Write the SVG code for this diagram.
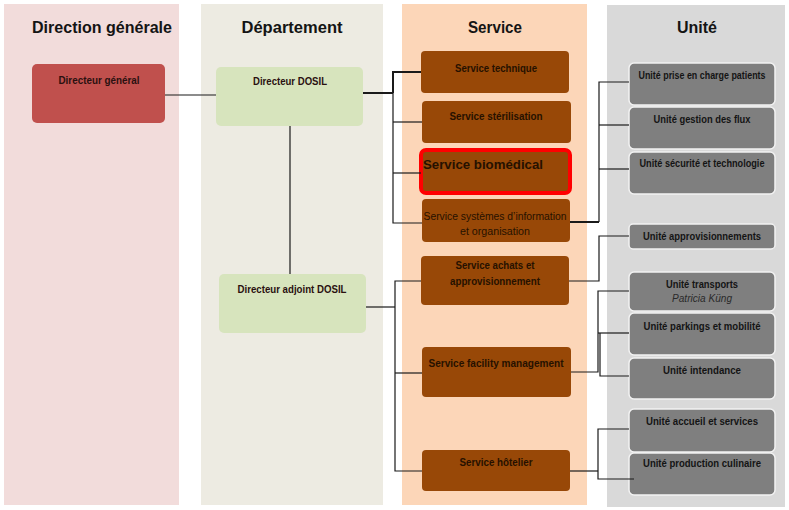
<svg xmlns="http://www.w3.org/2000/svg" width="789" height="510" viewBox="0 0 789 510">
<style>
.hdr{font-family:"Liberation Sans",Arial,sans-serif;font-weight:bold;font-size:17px;fill:#141414;text-anchor:middle}
.t{font-family:"Liberation Sans",Arial,sans-serif;font-weight:bold;font-size:10.5px;text-anchor:middle}
.dir{fill:#2a1010}
.svc{fill:#261100}
.unit{fill:#141414}
.srv{fill:#984807}
.u{fill:#7f7f7f;stroke:#f2f2f2;stroke-width:1.5}
.ln{fill:none;stroke:#1a1a1a;stroke-width:1.2}
.thick{stroke-width:2}
</style>
<rect x="0" y="0" width="789" height="510" fill="#ffffff"/>
<g id="columns">
<rect x="4" y="4" width="175" height="501" fill="#f2dcdb"/>
<rect x="201" y="4" width="182" height="501" fill="#edebe2"/>
<rect x="402" y="4" width="185" height="501" fill="#fcd6b8"/>
<rect x="607" y="5" width="178" height="502" fill="#d9d9d9"/>
<text class="hdr" x="102" y="33" textLength="140" lengthAdjust="spacingAndGlyphs">Direction générale</text>
<text class="hdr" x="292" y="33" textLength="101" lengthAdjust="spacingAndGlyphs">Département</text>
<text class="hdr" x="495" y="33" textLength="54" lengthAdjust="spacingAndGlyphs">Service</text>
<text class="hdr" x="697" y="33" textLength="40" lengthAdjust="spacingAndGlyphs">Unité</text>
</g>
<g id="directeur-general">
<rect x="32" y="64" width="133" height="59" rx="5" fill="#c0504d"/>
<text class="t dir" x="99" y="84" textLength="81" lengthAdjust="spacingAndGlyphs">Directeur général</text>
</g>
<g id="directeur-dosil">
<rect x="216" y="67" width="147" height="59" rx="5" fill="#d7e4bd"/>
<text class="t dir" x="290" y="85" textLength="74" lengthAdjust="spacingAndGlyphs">Directeur DOSIL</text>
</g>
<g id="directeur-adjoint-dosil">
<rect x="219" y="274" width="147" height="59" rx="5" fill="#d7e4bd"/>
<text class="t dir" x="292" y="293" textLength="109" lengthAdjust="spacingAndGlyphs">Directeur adjoint DOSIL</text>
</g>
<g id="service-technique">
<rect class="srv" x="421" y="51" width="148" height="42" rx="4"/>
<text class="t svc" x="496" y="72" textLength="82" lengthAdjust="spacingAndGlyphs">Service technique</text>
</g>
<g id="service-sterilisation">
<rect class="srv" x="422" y="101" width="149" height="42" rx="4"/>
<text class="t svc" x="496" y="120" textLength="93" lengthAdjust="spacingAndGlyphs">Service stérilisation</text>
</g>
<g id="service-biomedical">
<rect x="421" y="150" width="149" height="43" rx="5" fill="#984807" stroke="#ff0000" stroke-width="4"/>
<text class="t svc" x="423" y="169" style="font-size:13.5px;text-anchor:start" textLength="120" lengthAdjust="spacingAndGlyphs">Service biomédical</text>
</g>
<g id="service-si">
<rect class="srv" x="422" y="199" width="148" height="43" rx="4"/>
<text class="t svc" x="495" y="220" style="font-weight:normal" textLength="143" lengthAdjust="spacingAndGlyphs">Service systèmes d’information</text>
<text class="t svc" x="495" y="235" style="font-weight:normal" textLength="70" lengthAdjust="spacingAndGlyphs">et organisation</text>
</g>
<g id="service-achats">
<rect class="srv" x="421" y="256" width="148" height="49" rx="4"/>
<text class="t svc" x="495" y="269" textLength="79" lengthAdjust="spacingAndGlyphs">Service achats et</text>
<text class="t svc" x="495" y="285" textLength="90" lengthAdjust="spacingAndGlyphs">approvisionnement</text>
</g>
<g id="service-facility">
<rect class="srv" x="422" y="347" width="149" height="50" rx="4"/>
<text class="t svc" x="496" y="367" textLength="135" lengthAdjust="spacingAndGlyphs">Service facility management</text>
</g>
<g id="service-hotelier">
<rect class="srv" x="422" y="450" width="148" height="41" rx="4"/>
<text class="t svc" x="496" y="466" textLength="73" lengthAdjust="spacingAndGlyphs">Service hôtelier</text>
</g>
<g id="unite-prise-en-charge">
<rect class="u" x="629" y="63" width="146" height="42" rx="5"/>
<text class="t unit" x="702" y="79" textLength="127" lengthAdjust="spacingAndGlyphs">Unité prise en charge patients</text>
</g>
<g id="unite-gestion-flux">
<rect class="u" x="629" y="107" width="146" height="42" rx="5"/>
<text class="t unit" x="702" y="123" textLength="97" lengthAdjust="spacingAndGlyphs">Unité gestion des flux</text>
</g>
<g id="unite-securite">
<rect class="u" x="629" y="152" width="146" height="42" rx="5"/>
<text class="t unit" x="702" y="167" textLength="125" lengthAdjust="spacingAndGlyphs">Unité sécurité et technologie</text>
</g>
<g id="unite-approvisionnements">
<rect class="u" x="629" y="224" width="146" height="25" rx="4"/>
<text class="t unit" x="702" y="240" textLength="118" lengthAdjust="spacingAndGlyphs">Unité approvisionnements</text>
</g>
<g id="unite-transports">
<rect class="u" x="629" y="272" width="146" height="39" rx="5"/>
<text class="t unit" x="702" y="288" textLength="72" lengthAdjust="spacingAndGlyphs">Unité transports</text>
<text class="t unit" x="702" y="302" style="font-weight:normal;font-style:italic;fill:#2a2a2a" textLength="60" lengthAdjust="spacingAndGlyphs">Patricia Küng</text>
</g>
<g id="unite-parkings">
<rect class="u" x="629" y="313" width="146" height="42" rx="5"/>
<text class="t unit" x="702" y="330" textLength="117" lengthAdjust="spacingAndGlyphs">Unité parkings et mobilité</text>
</g>
<g id="unite-intendance">
<rect class="u" x="629" y="358" width="146" height="41" rx="5"/>
<text class="t unit" x="702" y="374" textLength="78" lengthAdjust="spacingAndGlyphs">Unité intendance</text>
</g>
<g id="unite-accueil">
<rect class="u" x="629" y="409" width="146" height="43" rx="5"/>
<text class="t unit" x="702" y="425" textLength="112" lengthAdjust="spacingAndGlyphs">Unité accueil et services</text>
</g>
<g id="unite-production">
<rect class="u" x="629" y="453" width="146" height="42" rx="5"/>
<text class="t unit" x="702" y="467" textLength="118" lengthAdjust="spacingAndGlyphs">Unité production culinaire</text>
</g>
<g id="connectors">
<path class="ln" d="M165,95 H216"/>
<path class="ln" d="M290,126 V274"/>
<path class="ln thick" d="M363,93 H393"/>
<path class="ln thick" d="M421,72 H393 V93"/>
<path class="ln" d="M393,93 V223 H422"/>
<path class="ln" d="M393,122 H422"/>
<path class="ln" d="M393,173 H421"/>
<path class="ln" d="M366,307 H395"/>
<path class="ln" d="M421,281 H395 V471 H422"/>
<path class="ln" d="M395,373 H422"/>
<path class="ln thick" d="M570,222 H599"/>
<path class="ln" d="M629,82 H599 V222"/>
<path class="ln" d="M599,125 H629"/>
<path class="ln" d="M599,169 H629"/>
<path class="ln" d="M569,281 H599 V236 H629"/>
<path class="ln" d="M571,372 H598 V291 H629"/>
<path class="ln" d="M598,333 H629"/>
<path class="ln" d="M600,333 V376 H629"/>
<path class="ln" d="M570,471 H598"/>
<path class="ln" d="M629,429 H598 V479 H634"/>
</g>
</svg>
